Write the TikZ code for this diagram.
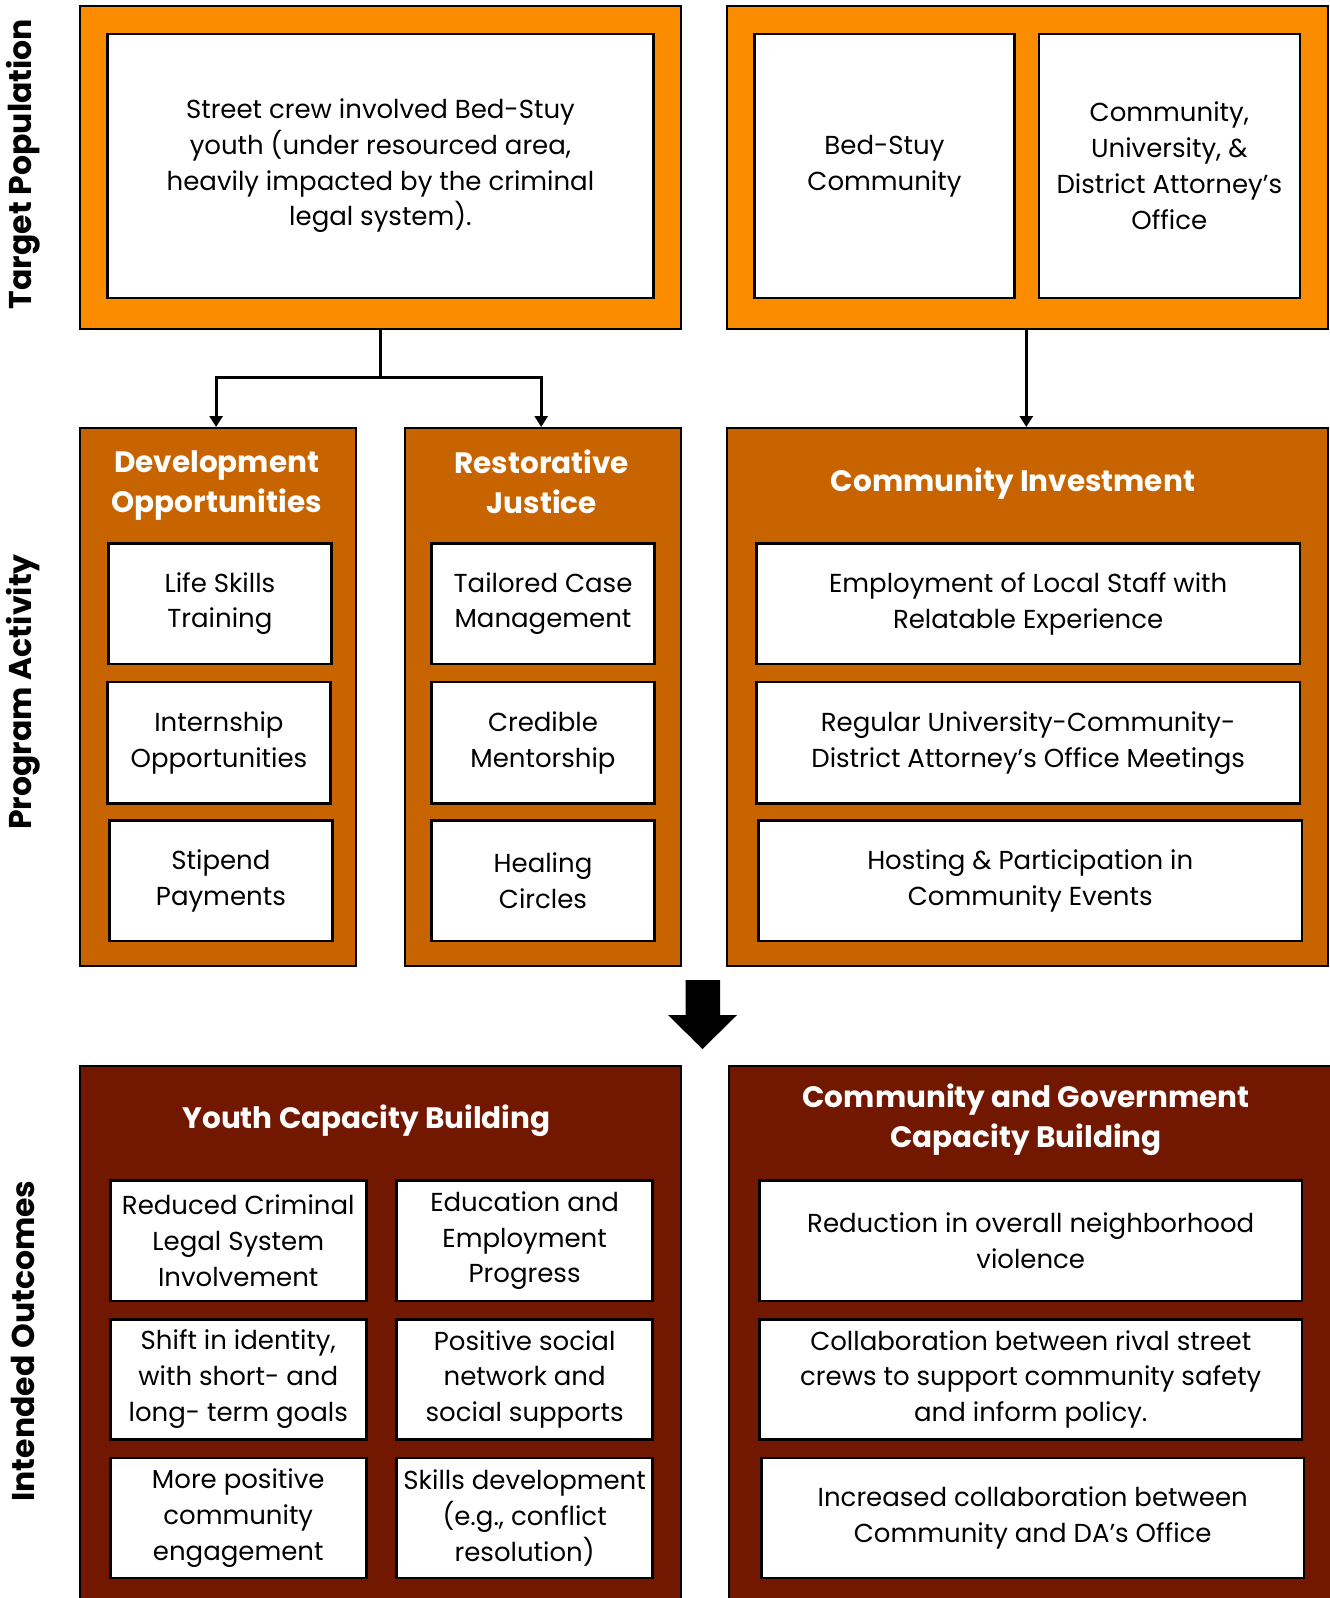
\documentclass[tikz,border=0pt]{standalone}
\usepackage{fontspec}
\setmainfont{Poppins}
\usetikzlibrary{arrows.meta}
\definecolor{topor}{RGB}{251,140,0}
\definecolor{midor}{RGB}{200,100,0}
\definecolor{botred}{RGB}{115,24,0}
\newcommand\bx[7]{\pgfmathsetmacro\bw{#4-#2}\pgfmathsetmacro\bh{#5-#3}%
  \node[#6, minimum width=\bw pt, minimum height=\bh pt, anchor=north west] (#1) at (#2,#3) {#7};}
\tikzset{
  topbox/.style={draw=black, line width=2pt, fill=topor, inner sep=0pt},
  midbox/.style={draw=black, line width=2pt, fill=midor, inner sep=0pt},
  botbox/.style={draw=black, line width=2pt, fill=botred, inner sep=0pt},
  wbox/.style={draw=black, line width=2.6pt, fill=white, inner sep=0pt, align=center,
    font=\fontsize{26}{35.8}\selectfont},
  ttl/.style={text=white, align=center, font=\bfseries\fontsize{29.5}{40}\selectfont},
  side/.style={rotate=90, font=\bfseries\fontsize{31.5}{36}\selectfont},
  conn/.style={line width=3pt, -{Triangle[length=11pt,width=13pt]}},
}
\begin{document}
\begin{tikzpicture}[x=1pt,y=-1pt]
\useasboundingbox (0,0) rectangle (1330,1598);
\fill[white] (0,0) rectangle (1330,1598);
% side labels
\node[side] (lTP) at (23,164) {Target Population};
\node[side] (lPA) at (23,692) {Program Activity};
\node[side] (lIO) at (23,1341) {Intended Outcomes};
% top row
\bx{tl}{78.5}{5}{680}{328}{topbox}{}
\bx{tlw}{106}{32.6}{652.3}{296.6}{wbox}{\rule{0pt}{6pt}Street crew involved Bed-Stuy\\youth (under resourced area,\\heavily impacted by the criminal\\legal system).}
\bx{tr}{725.7}{5}{1327}{328}{topbox}{}
\bx{trw1}{753.2}{32.6}{1013.1}{296.6}{wbox}{Bed-Stuy\\Community}
\bx{trw2}{1037.5}{32.6}{1298.5}{296.6}{wbox}{Community,\\University, \&\\District Attorney’s\\Office}
% program activity
\bx{dev}{78.5}{427}{354.7}{965}{midbox}{}
\bx{rj}{403.6}{427}{680}{965}{midbox}{}
\bx{ci}{725.7}{427}{1327}{965}{midbox}{}
\node[ttl] (devt) at (216.6,485.6) {Development\\Opportunities};
\node[ttl] (rjt) at (541.7,481.6) {Restorative\\Justice};
\node[ttl] (cit) at (1013,484) {Community Investment};
\bx{d1}{107}{542.2}{330.2}{662.5}{wbox}{Life Skills\\Training}
\bx{d2}{106}{680.8}{329.2}{802.1}{wbox}{Internship\\Opportunities}
\bx{d3}{108}{819.4}{331.2}{939.7}{wbox}{Stipend\\Payments}
\bx{r1}{430.1}{542.2}{653.3}{662.5}{wbox}{Tailored Case\\Management}
\bx{r2}{430.1}{680.8}{653.3}{802.1}{wbox}{Credible\\Mentorship}
\bx{r3}{430.1}{819.4}{653.3}{939.7}{wbox}{Healing\\Circles}
\bx{c1}{755.2}{542.2}{1298.5}{662.5}{wbox}{Employment of Local Staff with\\Relatable Experience}
\bx{c2}{755.2}{680.8}{1298.5}{802.1}{wbox}{Regular University-Community-\\District Attorney’s Office Meetings}
\bx{c3}{757.3}{819.4}{1300.6}{939.7}{wbox}{Hosting \& Participation in\\Community Events}
% connectors
\coordinate (jn) at (tl.south |- 0,377);
\draw[line width=3pt] (tl.south) -- (jn);
\draw[conn] (jn) -| (216.1,427);
\draw[conn] (jn) -| (541.2,427);
\draw[conn] (tr.south -| 1026.3,0) -- (ci.north -| 1026.3,0);
% big arrow
\fill[black] (685.7,980) -- (720,980) -- (720,1015) -- (737,1015) -- (702.5,1049) -- (668,1015) -- (685.7,1015) -- cycle;
% outcomes
\bx{yc}{78.5}{1065}{680}{1610}{botbox}{}
\bx{cg}{727.7}{1065}{1340}{1610}{botbox}{}
\node[ttl] (yct) at (366.4,1121) {Youth Capacity Building};
\node[ttl] (cgt) at (1026,1119.6) {Community and Government\\Capacity Building};
\bx{y1}{109}{1179.2}{364.9}{1299.5}{wbox}{Reduced Criminal\\Legal System\\Involvement}
\bx{y2}{395.4}{1179.2}{651.3}{1299.5}{wbox}{Education and\\Employment\\Progress}
\bx{y3}{109}{1317.9}{364.9}{1438.2}{wbox}{Shift in identity,\\with short- and\\long- term goals}
\bx{y4}{395.4}{1317.9}{651.3}{1438.2}{wbox}{Positive social\\network and\\social supports}
\bx{y5}{109}{1456.5}{364.9}{1576.7}{wbox}{More positive\\community\\engagement}
\bx{y6}{395.4}{1456.5}{651.3}{1576.7}{wbox}{Skills development\\(e.g., conflict\\resolution)}
\bx{g1}{758.3}{1179.2}{1300.6}{1299.5}{wbox}{Reduction in overall neighborhood\\violence}
\bx{g2}{758.3}{1317.9}{1300.6}{1438.2}{wbox}{Collaboration between rival street\\crews to support community safety\\and inform policy.}
\bx{g3}{760.3}{1456.5}{1302.6}{1576.7}{wbox}{Increased collaboration between\\Community and DA’s Office}
\end{tikzpicture}
\end{document}
